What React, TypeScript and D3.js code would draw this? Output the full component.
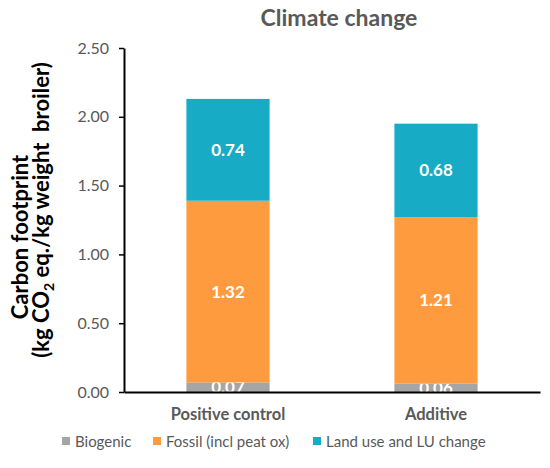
import { useEffect, useRef } from 'react';
import * as d3 from 'd3';

// ── Data ──
const categories = ['Positive control', 'Additive'];
const seriesNames = ['Biogenic', 'Fossil (incl peat ox)', 'Land use and LU change'];
const biogenic = [0.07, 0.06];
const fossil = [1.32, 1.21];
const landUse = [0.74, 0.68];
const yTicks = [0, 0.5, 1.0, 1.5, 2.0, 2.5];

const COLORS = ['#A5A5A5', '#FF9B3F', '#17ABC6'];
const FONT = 'Lato, "Open Sans", sans-serif';
const W = 550;
const H = 468;

export default function App() {
  const svgRef = useRef<SVGSVGElement>(null);

  useEffect(() => {
    const svgEl = svgRef.current;
    if (!svgEl) return;
    const svg = d3.select(svgEl);
    svg.selectAll('*').remove();

    const x0 = 124;
    const x1 = 540;
    const yTop = 48;
    const yBot = 392;

    const rows = categories.map((c, i) => ({
      cat: c,
      Biogenic: biogenic[i],
      'Fossil (incl peat ox)': fossil[i],
      'Land use and LU change': landUse[i],
    }));

    const x = d3.scaleBand<string>().domain(categories).range([x0, x1]).paddingInner(0.6).paddingOuter(0.3);
    const y = d3.scaleLinear().domain([0, 2.5]).range([yBot, yTop]);

    const stack = d3.stack<any>().keys(seriesNames)(rows);

    // Title
    svg.append('text')
      .attr('x', 339).attr('y', 26)
      .attr('text-anchor', 'middle')
      .attr('font-family', FONT).attr('font-weight', 700).attr('font-size', 23)
      .attr('fill', '#595959')
      .text('Climate change');

    // Bars
    const layer = svg.selectAll('.layer').data(stack).enter().append('g')
      .attr('fill', (_d, i) => COLORS[i]);
    layer.selectAll('rect').data((d) => d).enter().append('rect')
      .attr('x', (d) => x(d.data.cat)!)
      .attr('width', x.bandwidth())
      .attr('y', (d) => y(d[1]))
      .attr('height', (d) => y(d[0]) - y(d[1]));

    // Value labels
    layer.selectAll('text').data((d) => d.map((v) => ({ v, key: d.key }))).enter().append('text')
      .attr('x', (d) => x(d.v.data.cat)! + x.bandwidth() / 2)
      .attr('y', (d) => (y(d.v[0]) + y(d.v[1])) / 2 + 6)
      .attr('text-anchor', 'middle')
      .attr('font-family', FONT).attr('font-weight', 700).attr('font-size', 17)
      .attr('fill', '#ffffff')
      .text((d) => (d.v.data[d.key] as number).toFixed(2));

    // Y axis
    const yAxis = svg.append('g').attr('transform', `translate(${x0},0)`)
      .call(d3.axisLeft(y).tickValues(yTicks).tickFormat(d3.format('.2f')).tickSize(5).tickSizeOuter(0));
    yAxis.select('.domain').attr('stroke', '#000').attr('stroke-width', 2);
    yAxis.selectAll('.tick line').attr('stroke', '#000').attr('stroke-width', 1.5);
    yAxis.selectAll('.tick text')
      .attr('font-family', FONT).attr('font-size', 16).attr('fill', '#595959').attr('x', -15);

    // X axis
    const xAxis = svg.append('g').attr('transform', `translate(0,${yBot})`)
      .call(d3.axisBottom(x).tickSize(0).tickSizeOuter(0));
    xAxis.select('.domain').attr('stroke', '#000').attr('stroke-width', 2);
    xAxis.selectAll('.tick text')
      .attr('font-family', FONT).attr('font-weight', 700).attr('font-size', 16.5)
      .attr('fill', '#595959').attr('dy', '1.5em');

    // Y axis title
    const titleG = svg.append('g').attr('font-family', FONT).attr('font-weight', 700)
      .attr('font-size', 22).attr('fill', '#000').attr('text-anchor', 'middle');
    titleG.append('text')
      .attr('transform', 'translate(28,237) rotate(-90)')
      .text('Carbon footprint');
    const t2 = titleG.append('text').attr('transform', 'translate(49,210) rotate(-90)')
      .style('white-space', 'pre');
    t2.append('tspan').text('(kg CO');
    t2.append('tspan').attr('font-size', 14).attr('dy', 5).text('2');
    t2.append('tspan').attr('dy', -5).text(' eq./kg weight  broiler)');

    // Legend
    const legendX = [62, 153, 313];
    const lg = svg.selectAll('.lg').data(seriesNames).enter().append('g')
      .attr('transform', (_d, i) => `translate(${legendX[i]},447)`);
    lg.append('rect').attr('x', 0).attr('y', -10).attr('width', 8).attr('height', 8)
      .attr('fill', (_d, i) => COLORS[i]);
    lg.append('text').attr('x', 13).attr('y', 0)
      .attr('font-family', FONT).attr('font-size', 15).attr('fill', '#595959')
      .text((d) => d);
  }, []);

  return (
    <svg
      ref={svgRef}
      width={W}
      height={H}
      style={{ position: 'absolute', left: 0, top: 0, background: '#fff' }}
    />
  );
}
